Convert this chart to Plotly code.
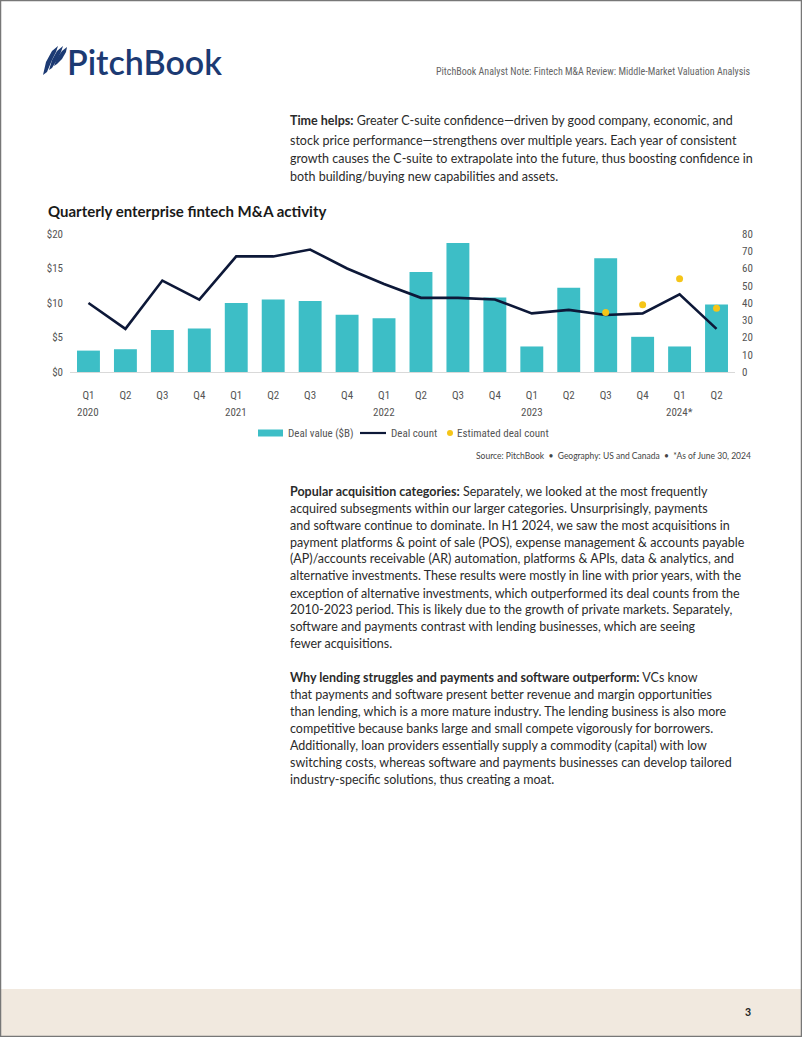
import plotly.graph_objects as go

# ---------------- data ----------------
quarter_labels = ["Q1", "Q2", "Q3", "Q4", "Q1", "Q2", "Q3", "Q4", "Q1", "Q2", "Q3", "Q4",
                  "Q1", "Q2", "Q3", "Q4", "Q1", "Q2"]
period_years = ["2020"] * 4 + ["2021"] * 4 + ["2022"] * 4 + ["2023"] * 4 + ["2024"] * 2
year_labels = ["2020", "2021", "2022", "2023", "2024*"]
deal_value = [3.1, 3.3, 6.1, 6.3, 10.0, 10.5, 10.3, 8.3, 7.8, 14.5, 18.7, 10.8,
              3.7, 12.2, 16.5, 5.1, 3.7, 9.8]
deal_count = [40, 25, 53, 42, 67, 67, 71, 60, 51, 43, 43, 42, 34, 36, 33, 34, 45, 25]
est_deal_count = [None] * 14 + [34.5, 39, 54, 37]
series_names = ["Deal value ($B)", "Deal count", "Estimated deal count"]

categories = [f"{y} {q}" for y, q in zip(period_years, quarter_labels)]

# ---------------- layout geometry ----------------
W_PX, H_PX = 802, 1037
ML, MR, MT, MB = 70, 67, 234, 665
PW = W_PX - ML - MR
PH = H_PX - MT - MB


def px(x):
    return (x - ML) / PW


def py(y):
    return (H_PX - MB - y) / PH


TEAL = "#3dbec6"
NAVY = "#0d1838"
GOLD = "#f5c518"
LOGO = "#1c3a73"
COND = "Liberation Sans Narrow, Arial Narrow, Roboto Condensed, Roboto, sans-serif"
BODY = "Lato, Noto Sans, sans-serif"

fig = go.Figure()
fig.add_trace(go.Bar(x=categories, y=deal_value, name=series_names[0],
                     marker=dict(color=TEAL, line=dict(width=0)), width=0.62))
fig.add_trace(go.Scatter(x=categories, y=deal_count, name=series_names[1], mode="lines",
                         line=dict(color=NAVY, width=2.6), yaxis="y2"))
fig.add_trace(go.Scatter(x=categories, y=est_deal_count, name=series_names[2],
                         mode="markers", marker=dict(color=GOLD, size=7), yaxis="y2"))

annotations = []


def esc(s):
    return s.replace("&", "&amp;")


def text(x, y, s, size, color, family=BODY, anchor="left"):
    annotations.append(dict(x=px(x), y=py(y), xref="paper", yref="paper", text=s,
                            showarrow=False, xanchor=anchor, yanchor="middle",
                            font=dict(size=size, color=color, family=family)))


# year labels under Q1 of each year
for i, yl in enumerate(year_labels):
    annotations.append(dict(x=categories[i * 4], y=py(412), xref="x", yref="paper", text=yl,
                            showarrow=False, xanchor="center", yanchor="middle",
                            font=dict(size=11, color="#555", family=COND)))

# title
text(46, 211, "<b>Quarterly enterprise fintech M&amp;A activity</b>", 15, "#1a1a1a")
# source
text(753, 456, "Source: PitchBook  •  Geography: US and Canada  •  *As of June 30, 2024",
     8.5, "#444", anchor="right")
# header note
text(753, 71, esc("PitchBook Analyst Note: Fintech M&A Review: Middle-Market Valuation Analysis"),
     10, "#666", family=COND, anchor="right")
# logo text
annotations.append(dict(x=px(65), y=py(61), xref="paper", yref="paper", text="PitchBook",
                        showarrow=False, xanchor="left", yanchor="middle",
                        font=dict(size=34, color=LOGO, family="Lato, Noto Sans, sans-serif",
                                  weight=600)))
# page number
text(753, 1012, "<b>3</b>", 10.5, "#222", anchor="right")

# legend labels
text(286, 433, esc(series_names[0]), 11, "#555", family=COND)
text(389, 433, series_names[1], 11, "#555", family=COND)
text(455, 433, series_names[2], 11, "#555", family=COND)

top_lines = [
    (121, "<b>Time helps:</b> Greater C-suite confidence—driven by good company, economic, and"),
    (140, "stock price performance—strengthens over multiple years. Each year of consistent"),
    (158, "growth causes the C-suite to extrapolate into the future, thus boosting confidence in"),
    (176, "both building/buying new capabilities and assets."),
]
para2 = [
    (491, "<b>Popular acquisition categories:</b> Separately, we looked at the most frequently"),
    (508, "acquired subsegments within our larger categories. Unsurprisingly, payments"),
    (525, "and software continue to dominate. In H1 2024, we saw the most acquisitions in"),
    (542, esc("payment platforms & point of sale (POS), expense management & accounts payable")),
    (558, esc("(AP)/accounts receivable (AR) automation, platforms & APIs, data & analytics, and")),
    (575, "alternative investments. These results were mostly in line with prior years, with the"),
    (593, "exception of alternative investments, which outperformed its deal counts from the"),
    (609, "2010-2023 period. This is likely due to the growth of private markets. Separately,"),
    (626, "software and payments contrast with lending businesses, which are seeing"),
    (643, "fewer acquisitions."),
]
para3 = [
    (677, "<b>Why lending struggles and payments and software outperform:</b> VCs know"),
    (694, "that payments and software present better revenue and margin opportunities"),
    (711, "than lending, which is a more mature industry. The lending business is also more"),
    (728, "competitive because banks large and small compete vigorously for borrowers."),
    (745, "Additionally, loan providers essentially supply a commodity (capital) with low"),
    (762, "switching costs, whereas software and payments businesses can develop tailored"),
    (779, "industry-specific solutions, thus creating a moat."),
]
for yy, s in top_lines + para2 + para3:
    text(288, yy, s, 12.5, "#2b2b2b")


def path(points):
    d = "M " + " L ".join(f"{px(x):.5f},{py(y):.5f}" for x, y in points) + " Z"
    return d


shapes = [
    # footer band
    dict(type="rect", xref="paper", yref="paper", x0=px(0), x1=px(802), y0=py(989), y1=py(1037),
         fillcolor="#f1e9df", line=dict(width=0), layer="below"),
    # page border
    dict(type="rect", xref="paper", yref="paper", x0=px(0.5), x1=px(801.5), y0=py(0.5), y1=py(1036.5),
         fillcolor="rgba(0,0,0,0)", line=dict(color="#777", width=1.5)),
    # legend symbols
    dict(type="rect", xref="paper", yref="paper", x0=px(258), x1=px(283), y0=py(436.5), y1=py(429.5),
         fillcolor=TEAL, line=dict(width=0)),
    dict(type="line", xref="paper", yref="paper", x0=px(360), x1=px(386), y0=py(433), y1=py(433),
         line=dict(color=NAVY, width=2.2)),
    dict(type="circle", xref="paper", yref="paper", x0=px(447), x1=px(453), y0=py(436), y1=py(430),
         fillcolor=GOLD, line=dict(width=0)),
]
# logo icon: three curved sails
sails = [
    [(43, 75), (46, 62), (52, 51), (58, 46), (56, 52), (52, 60), (47, 72)],
    [(49, 70), (52, 60), (57, 51), (63, 46), (61, 52), (57, 60), (52, 68)],
    [(54, 66), (57, 58), (62, 51), (67, 47), (66, 52), (62, 59), (57, 64)],
]
for pts in sails:
    shapes.append(dict(type="path", xref="paper", yref="paper", path=path(pts),
                       fillcolor=LOGO, line=dict(width=0)))

fig.update_layout(
    width=W_PX, height=H_PX,
    margin=dict(l=ML, r=MR, t=MT, b=MB, pad=0),
    paper_bgcolor="white", plot_bgcolor="white",
    showlegend=False,
    xaxis=dict(type="category", tickvals=categories, ticktext=quarter_labels,
               showgrid=False, zeroline=False, showline=True, linecolor="#d9d9d9", linewidth=1,
               ticks="", ticklabelstandoff=13,
               tickfont=dict(size=11, color="#555", family=COND), range=[-0.5, 17.5]),
    yaxis=dict(range=[0, 20], tickvals=[0, 5, 10, 15, 20],
               ticktext=["$0", "$5", "$10", "$15", "$20"], showgrid=False, zeroline=False,
               ticks="", ticklabelstandoff=6,
               tickfont=dict(size=11, color="#555", family=COND)),
    yaxis2=dict(range=[0, 80], tickvals=list(range(0, 81, 10)), overlaying="y", side="right",
                showgrid=False, zeroline=False, ticks="", ticklabelstandoff=6,
                tickfont=dict(size=11, color="#555", family=COND)),
    bargap=0.38,
    annotations=annotations,
    shapes=shapes,
)

fig.write_html("out.html", config={"displayModeBar": False},
               post_script="document.body.style.margin='0';document.body.style.overflow='hidden';")
